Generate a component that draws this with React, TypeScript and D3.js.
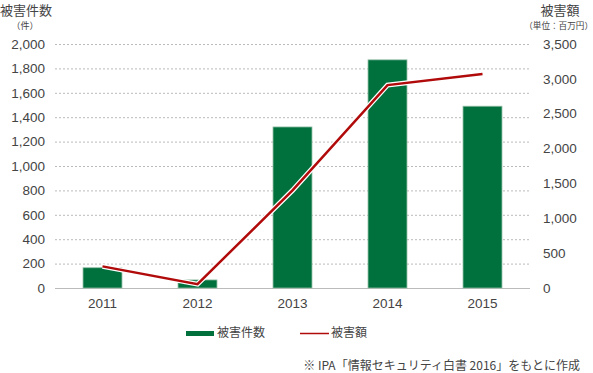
import React, { useEffect, useRef } from "react";
import * as d3 from "d3";

const years = ["2011", "2012", "2013", "2014", "2015"];
const countValues = [166, 66, 1320, 1870, 1490];
const amountValues = [310, 55, 1400, 2910, 3070];
const leftTicks = [0, 200, 400, 600, 800, 1000, 1200, 1400, 1600, 1800, 2000];
const rightTicks = [0, 500, 1000, 1500, 2000, 2500, 3000, 3500];

const svgWidth = 593;
const svgHeight = 373;
const plotLeft = 55;
const plotRight = 530;
const plotTop = 44;
const plotBottom = 288;

const green = "#00713d";
const red = "#b00a0a";
const textColor = "#444";
const jpFont = "'Noto Sans CJK JP', 'Noto Sans', sans-serif";
const numFont = "'Liberation Sans', Arial, sans-serif";

export default function App() {
  const ref = useRef<SVGSVGElement>(null);

  useEffect(() => {
    document.body.style.margin = "0";
    const svg = d3.select(ref.current);
    svg.selectAll("*").remove();

    const x = d3
      .scaleBand()
      .domain(years)
      .range([plotLeft, plotRight])
      .paddingInner(0.59)
      .paddingOuter(0.295);
    const yLeft = d3.scaleLinear().domain([0, 2000]).range([plotBottom, plotTop]);
    const yRight = d3.scaleLinear().domain([0, 3500]).range([plotBottom, plotTop]);

    // gridlines
    svg
      .append("g")
      .selectAll("line")
      .data(leftTicks.filter((t) => t > 0))
      .join("line")
      .attr("x1", plotLeft)
      .attr("x2", plotRight)
      .attr("y1", (d) => yLeft(d) + 0.5)
      .attr("y2", (d) => yLeft(d) + 0.5)
      .attr("stroke", "#bbb")
      .attr("stroke-width", 1)
      .attr("stroke-dasharray", "2,2");

    // baseline
    svg
      .append("line")
      .attr("x1", plotLeft)
      .attr("x2", plotRight)
      .attr("y1", plotBottom + 0.5)
      .attr("y2", plotBottom + 0.5)
      .attr("stroke", "#bbb");

    // left tick labels
    svg
      .append("g")
      .selectAll("text")
      .data(leftTicks)
      .join("text")
      .attr("x", 45)
      .attr("y", (d) => yLeft(d))
      .attr("dy", "0.35em")
      .attr("text-anchor", "end")
      .attr("font-family", numFont)
      .attr("font-size", 13.5)
      .attr("fill", textColor)
      .text((d) => d3.format(",")(d));

    // right tick labels
    svg
      .append("g")
      .selectAll("text")
      .data(rightTicks)
      .join("text")
      .attr("x", 543)
      .attr("y", (d) => yRight(d))
      .attr("dy", "0.35em")
      .attr("text-anchor", "start")
      .attr("font-family", numFont)
      .attr("font-size", 13.5)
      .attr("fill", textColor)
      .text((d) => d3.format(",")(d));

    // bars
    svg
      .append("g")
      .selectAll("rect")
      .data(countValues)
      .join("rect")
      .attr("x", (d, i) => x(years[i])!)
      .attr("y", (d) => yLeft(d))
      .attr("width", x.bandwidth())
      .attr("height", (d) => plotBottom - yLeft(d))
      .attr("fill", green)
      .attr("stroke", "#8fbca4")
      .attr("stroke-width", 0.8);

    // line with white halo
    const line = d3
      .line<number>()
      .x((d, i) => x(years[i])! + x.bandwidth() / 2)
      .y((d) => yRight(d));
    svg
      .append("path")
      .attr("d", line(amountValues))
      .attr("fill", "none")
      .attr("stroke", "#fff")
      .attr("stroke-width", 5);
    svg
      .append("path")
      .attr("d", line(amountValues))
      .attr("fill", "none")
      .attr("stroke", red)
      .attr("stroke-width", 2.5);

    // x labels
    svg
      .append("g")
      .selectAll("text")
      .data(years)
      .join("text")
      .attr("x", (d) => x(d)! + x.bandwidth() / 2)
      .attr("y", 303)
      .attr("dy", "0.35em")
      .attr("text-anchor", "middle")
      .attr("font-family", numFont)
      .attr("font-size", 13.5)
      .attr("fill", textColor)
      .text((d) => d);

    // axis titles
    svg
      .append("text")
      .attr("x", 0)
      .attr("y", 14.5)
      .attr("font-family", jpFont)
      .attr("font-size", 13)
      .attr("fill", textColor)
      .text("被害件数");
    svg
      .append("text")
      .attr("x", 25)
      .attr("y", 28.5)
      .attr("text-anchor", "middle")
      .attr("font-family", jpFont)
      .attr("font-size", 9)
      .attr("fill", textColor)
      .text("（件）");
    svg
      .append("text")
      .attr("x", 560)
      .attr("y", 14.5)
      .attr("text-anchor", "middle")
      .attr("font-family", jpFont)
      .attr("font-size", 13)
      .attr("fill", textColor)
      .text("被害額");
    svg
      .append("text")
      .attr("x", 593)
      .attr("y", 28.5)
      .attr("text-anchor", "end")
      .attr("font-family", jpFont)
      .attr("font-size", 8.6)
      .attr("fill", textColor)
      .text("（単位：百万円）");

    // legend
    const lg = svg.append("g");
    lg.append("rect")
      .attr("x", 186)
      .attr("y", 331)
      .attr("width", 28)
      .attr("height", 5)
      .attr("fill", green);
    lg.append("text")
      .attr("x", 217)
      .attr("y", 333)
      .attr("dy", "0.35em")
      .attr("font-family", jpFont)
      .attr("font-size", 12)
      .attr("fill", textColor)
      .text("被害件数");
    lg.append("line")
      .attr("x1", 300)
      .attr("x2", 329)
      .attr("y1", 333.5)
      .attr("y2", 333.5)
      .attr("stroke", red)
      .attr("stroke-width", 1.5);
    lg.append("text")
      .attr("x", 331)
      .attr("y", 333)
      .attr("dy", "0.35em")
      .attr("font-family", jpFont)
      .attr("font-size", 12)
      .attr("fill", textColor)
      .text("被害額");

    // source note
    svg
      .append("text")
      .attr("x", 580)
      .attr("y", 366)
      .attr("dy", "0.35em")
      .attr("text-anchor", "end")
      .attr("font-family", jpFont)
      .attr("font-size", 12)
      .attr("fill", textColor)
      .text("※ IPA「情報セキュリティ白書 2016」をもとに作成");
  }, []);

  return (
    <svg
      ref={ref}
      width={svgWidth}
      height={svgHeight}
      style={{ display: "block", background: "#fff" }}
    ></svg>
  );
}
